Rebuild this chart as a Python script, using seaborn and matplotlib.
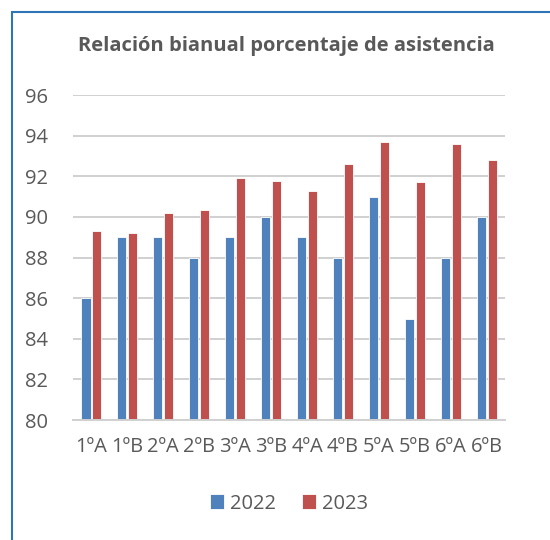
import numpy as np
import pandas as pd
import matplotlib.pyplot as plt
import seaborn as sns
from matplotlib.patches import Rectangle

grupos = ["1ºA", "1ºB", "2ºA", "2ºB", "3ºA", "3ºB", "4ºA", "4ºB", "5ºA", "5ºB", "6ºA", "6ºB"]
asist_2022 = [86, 89, 89, 88, 89, 90, 89, 88, 91, 85, 88, 90]
asist_2023 = [89.3, 89.2, 90.2, 90.35, 91.9, 91.75, 91.3, 92.6, 93.7, 91.7, 93.6, 92.8]
years = ["2022", "2023"]
y_ticks = [80, 82, 84, 86, 88, 90, 92, 94, 96]

df = pd.DataFrame({
    "grupo": grupos * 2,
    "year": [years[0]] * len(grupos) + [years[1]] * len(grupos),
    "valor": asist_2022 + asist_2023,
})

sns.set_theme(style="white")
plt.rcParams["font.family"] = ["Open Sans", "DejaVu Sans"]
GREY = "#595959"

fig = plt.figure(figsize=(5.5, 5.4), dpi=100)
ax = fig.add_axes([0.133, 0.222, 0.785, 0.602])

sns.barplot(data=df, x="grupo", y="valor", hue="year", ax=ax,
            palette=["#4F81BD", "#C0504D"], saturation=1, width=0.58, gap=0.12,
            edgecolor="white", linewidth=0.6, legend=True)

ax.set_ylim(80, 96)
ax.set_yticks(y_ticks)
ax.set_xlim(-0.5, len(grupos) - 0.5)
ax.grid(axis="y", color="#D0D0D0", linewidth=1.4)
ax.set_axisbelow(True)
for s in ["top", "right", "left"]:
    ax.spines[s].set_visible(False)
ax.spines["bottom"].set_color("#D0D0D0")
ax.spines["bottom"].set_linewidth(1.4)
ax.tick_params(axis="both", length=0, labelsize=14.5, colors=GREY)
ax.tick_params(axis="x", pad=12)
ax.tick_params(axis="y", pad=18)
ax.set_xlabel("")
ax.set_ylabel("")

leg = ax.legend(loc="upper center", bbox_to_anchor=(0.5, -0.17), ncol=2,
                frameon=False, fontsize=14.5, handlelength=0.7, handleheight=0.7,
                columnspacing=1.3, handletextpad=0.3)
for t in leg.get_texts():
    t.set_color(GREY)

fig.text(0.52, 0.915, "Relación bianual porcentaje de asistencia",
         ha="center", va="center", fontsize=14.5, fontweight="bold", color=GREY)

# chart frame (partially off-canvas like the screenshot)
fig.patches.append(Rectangle((12 / 550, -0.1), 1.2, (540 - 12) / 540 + 0.1,
                             transform=fig.transFigure, fill=False,
                             edgecolor="#2E75B6", linewidth=1.5))

fig.savefig("out.png", dpi=100)
